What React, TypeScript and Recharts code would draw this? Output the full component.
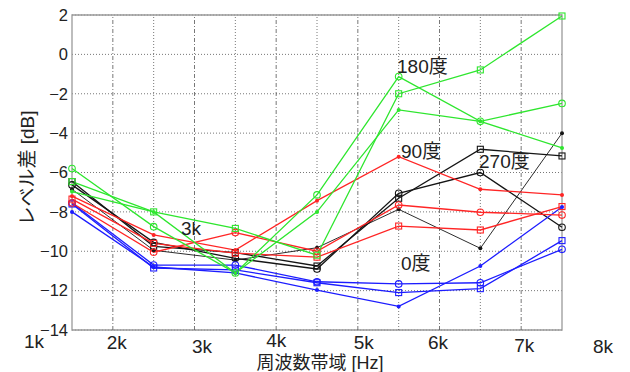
import React from "react";
import {
	LineChart,
	Line,
	XAxis,
	YAxis,
	CartesianGrid,
	ReferenceLine,
	ReferenceArea,
} from "recharts";

// band positions on the x axis (one per measured band)
const bandPos = [0, 1, 2, 3, 4, 5, 6];

// level difference [dB] per band
const green180Square = [-6.46, -8.0, -8.84, -10.2, -2.0, -0.79, 1.95];
const green180Circle = [-5.8, -8.75, -11.1, -7.14, -1.13, -3.4, -2.49];
const green180Dot = [-6.97, -8.0, -11.1, -8.0, -2.82, -3.4, -4.75];

const red90Dot = [-7.2, -9.17, -9.94, -7.43, -5.2, -6.85, -7.14];
const red90Circle = [-7.55, -10.05, -9.05, -10.0, -7.65, -8.02, -8.16];
const red90Square = [-7.35, -9.6, -10.1, -10.3, -8.72, -8.92, -7.73];

const black270Square = [-6.46, -9.75, -10.07, -10.75, -7.31, -4.82, -5.16];
const black270Circle = [-6.63, -9.55, -10.36, -10.9, -7.06, -6.0, -8.78];
const black270Dot = [-6.85, -9.95, -10.45, -9.82, -7.87, -9.85, -4.0];

const blue0Circle = [-7.55, -10.7, -10.7, -11.55, -11.66, -11.6, -9.9];
const blue0Square = [-7.6, -10.85, -10.95, -11.6, -12.1, -11.9, -9.46];
const blue0Dot = [-8.0, -10.8, -11.1, -11.97, -12.8, -10.75, -7.75];

// axis ticks
const yTicks = [-14, -12, -10, -8, -6, -4, -2, 0, 2];
const xTickLabels = ["1k", "2k", "3k", "4k", "5k", "6k", "7k", "8k"];
const xTickPos = [0, 0.5, 1.5, 2.5, 3.5, 4.5, 5.5, 6];
const gridDotted = [1, 2, 3, 4, 5];
const gridDashDot = [0.5, 1.5, 2.5, 3.5, 4.5, 5.5];

// the labels in the source figure are placed by hand, slightly off the grid
const xTickDx = [-38, 4, 7.5, 0, 6, -1.5, 3, 41];
const xTickDy = [18, 19, 23, 17, 18.5, 19, 22, 23];

const FONT = "'Liberation Sans', 'Noto Sans CJK JP', sans-serif";
const GREEN = "#2ee62e";
const RED = "#ff2525";
const BLACK = "#151515";
const BLUE = "#1c1cff";

const series = [
	{ key: "k1", color: BLACK, marker: "square", values: black270Square },
	{ key: "k2", color: BLACK, marker: "circle", values: black270Circle },
	{ key: "k3", color: BLACK, marker: "dot", values: black270Dot, thin: true },
	{ key: "b1", color: BLUE, marker: "circle", values: blue0Circle },
	{ key: "b2", color: BLUE, marker: "square", values: blue0Square },
	{ key: "b3", color: BLUE, marker: "dot", values: blue0Dot },
	{ key: "r1", color: RED, marker: "dot", values: red90Dot },
	{ key: "r2", color: RED, marker: "circle", values: red90Circle },
	{ key: "r3", color: RED, marker: "square", values: red90Square },
	{ key: "g1", color: GREEN, marker: "square", values: green180Square },
	{ key: "g2", color: GREEN, marker: "circle", values: green180Circle },
	{ key: "g3", color: GREEN, marker: "dot", values: green180Dot },
];

const rows = bandPos.map((x, i) => {
	const row: Record<string, number> = { x };
	series.forEach((s) => {
		row[s.key] = s.values[i];
	});
	return row;
});

const makeDot = (marker: string, color: string) => (props: any) => {
	const { cx, cy, index } = props;
	const k = `${marker}-${index}`;
	if (marker === "circle") {
		return <circle key={k} cx={cx} cy={cy} r={3.3} fill="none" stroke={color} strokeWidth={1.1} />;
	}
	if (marker === "square") {
		return <rect key={k} x={cx - 3} y={cy - 3} width={6} height={6} fill="none" stroke={color} strokeWidth={1.1} />;
	}
	return <circle key={k} cx={cx} cy={cy} r={2} fill={color} />;
};

const renderXTick = (props: any) => {
	const { x, y, index } = props;
	return (
		<text
			x={x + xTickDx[index]}
			y={y + xTickDy[index]}
			textAnchor="middle"
			fontSize={19}
			fontFamily={FONT}
			fill="#222"
		>
			{xTickLabels[index]}
		</text>
	);
};

const notes = [
	{ text: "180度", x: 397, y: 73 },
	{ text: "90度", x: 401, y: 158 },
	{ text: "270度", x: 479, y: 168 },
	{ text: "0度", x: 401, y: 270 },
	{ text: "3k", x: 181, y: 235 },
];

export default function App() {
	return (
		<div style={{ position: "absolute", left: 0, top: 0, width: 630, height: 372, background: "#fff" }}>
			<LineChart
				width={630}
				height={372}
				data={rows}
				margin={{ top: 15, right: 68, bottom: 0, left: 0 }}
			>
				<CartesianGrid
					vertical={false}
					stroke="#555"
					strokeWidth={0.8}
					strokeDasharray="1 2"
				/>
				{gridDotted.map((v) => (
					<ReferenceLine key={`d${v}`} x={v} stroke="#555" strokeWidth={0.8} strokeDasharray="1 2" />
				))}
				{gridDashDot.map((v) => (
					<ReferenceLine key={`dd${v}`} x={v} stroke="#555" strokeWidth={0.8} strokeDasharray="4 2 1 2" />
				))}
				<ReferenceArea x1={0} x2={6} y1={-14} y2={2} fill="none" stroke="#9a9a9a" strokeWidth={1.3} />
				<XAxis
					dataKey="x"
					type="number"
					domain={[0, 6]}
					ticks={bandPos}
					tick={false}
					axisLine={false}
					tickLine={false}
					height={0}
				/>
				<XAxis
					xAxisId="lbl"
					dataKey="x"
					type="number"
					domain={[0, 6]}
					ticks={xTickPos}
					interval={0}
					axisLine={false}
					tickLine={false}
					tickSize={0}
					tickMargin={0}
					height={42}
					tick={renderXTick}
				/>
				<YAxis
					type="number"
					domain={[-14, 2]}
					ticks={yTicks}
					interval={0}
					width={72}
					axisLine={false}
					tickLine={false}
					tickSize={0}
					tickMargin={4}
					tick={{ fontSize: 16.5, fill: "#222", fontFamily: FONT }}
					tickFormatter={(v) => `${v}`.replace("-", "\u2212")}
				/>
				{series.map((s) => (
					<Line
						key={s.key}
						dataKey={s.key}
						type="linear"
						stroke={s.color}
						strokeWidth={s.thin ? 0.9 : 1.3}
						dot={makeDot(s.marker, s.color)}
						activeDot={false}
						isAnimationActive={false}
					/>
				))}
			</LineChart>
			<svg
				width={630}
				height={372}
				style={{ position: "absolute", left: 0, top: 0, pointerEvents: "none" }}
			>
				<text
					transform="rotate(-90 27 168)"
					x={27}
					y={168}
					textAnchor="middle"
					dominantBaseline="central"
					fontSize={19}
					fontFamily={FONT}
					fill="#222"
				>
					レベル差 [dB]
				</text>
				<text x={320} y={369} textAnchor="middle" fontSize={18} fontFamily={FONT} fill="#222">
					周波数帯域 [Hz]
				</text>
				{notes.map((n) => (
					<text key={n.text} x={n.x} y={n.y} fontSize={19} fontFamily={FONT} fill="#222">
						{n.text}
					</text>
				))}
			</svg>
		</div>
	);
}
